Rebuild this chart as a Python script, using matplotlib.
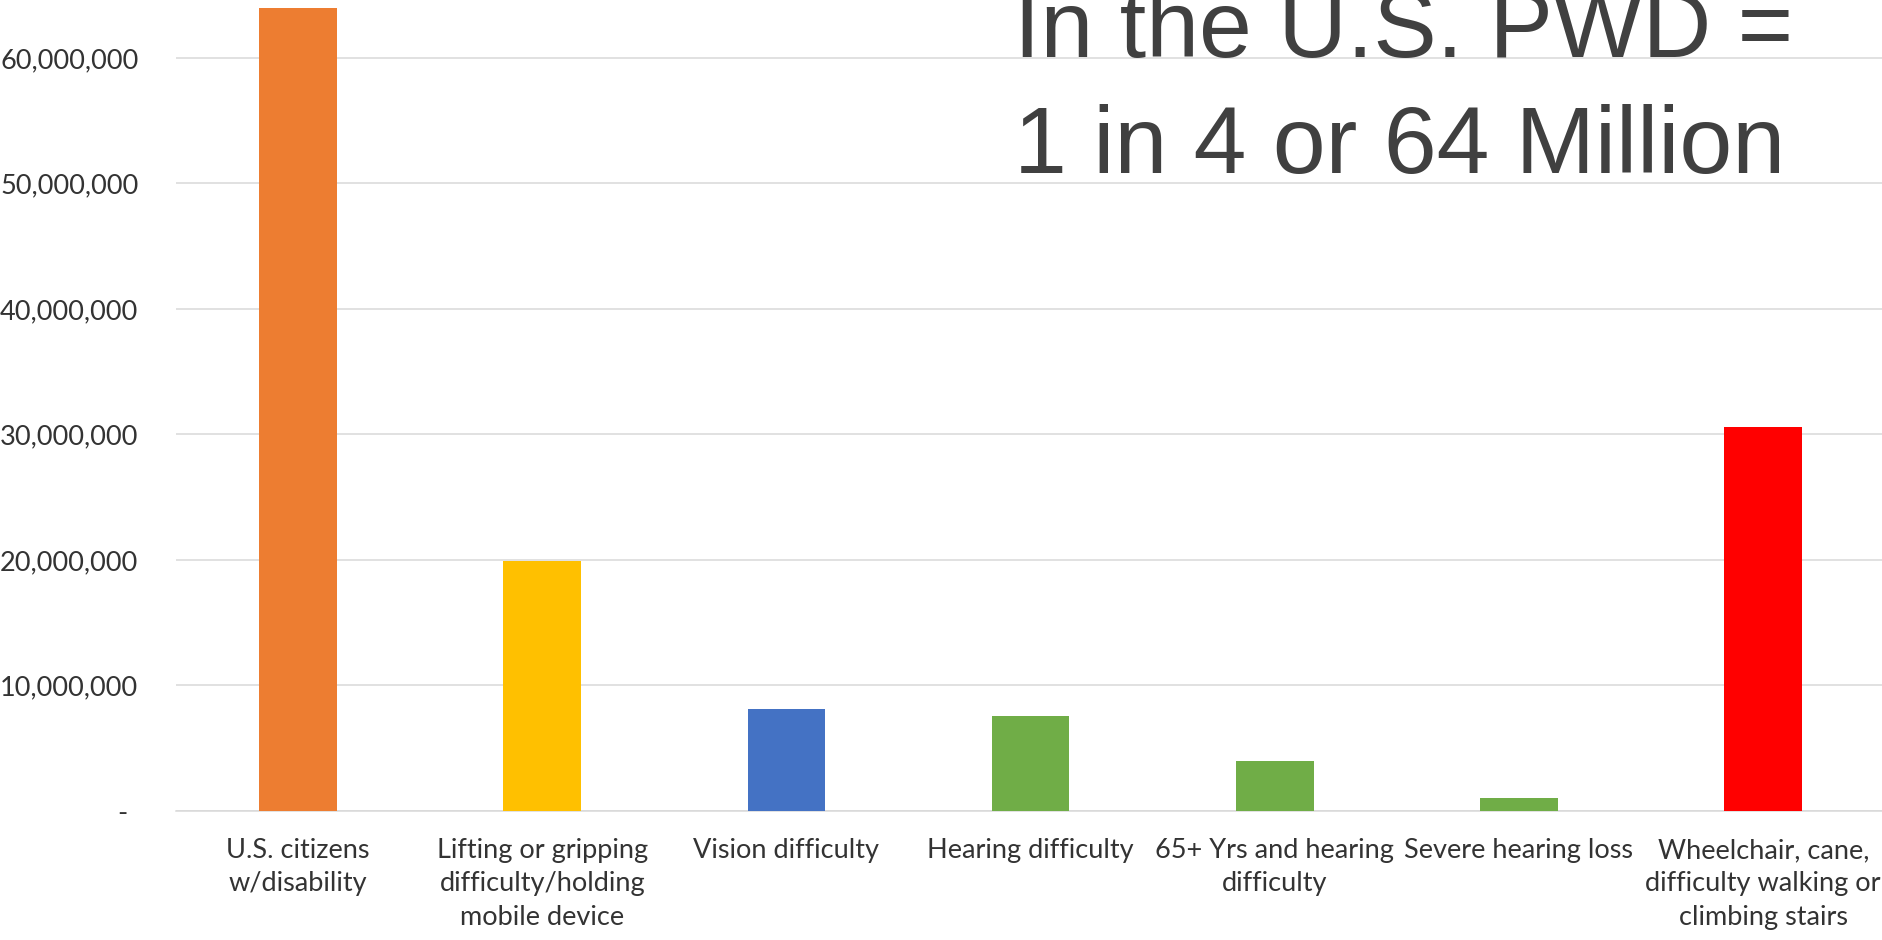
import matplotlib
matplotlib.use("Agg")
import matplotlib.pyplot as plt
from matplotlib.ticker import FuncFormatter

# Data
categories = [
    "U.S. citizens\nw/disability",
    "Lifting or gripping\ndifficulty/holding\nmobile device",
    "Vision difficulty",
    "Hearing difficulty",
    "65+ Yrs and hearing\ndifficulty",
    "Severe hearing loss",
    "Wheelchair, cane,\ndifficulty walking or\nclimbing stairs",
]
values = [64_000_000, 19_900_000, 8_100_000, 7_600_000, 4_000_000, 1_000_000, 30_600_000]
bar_colors = ["#ED7D31", "#FFC000", "#4472C4", "#70AD47", "#70AD47", "#70AD47", "#FF0000"]
y_ticks = [0, 10_000_000, 20_000_000, 30_000_000, 40_000_000, 50_000_000, 60_000_000]
headline = ["In the U.S. PWD =", "1 in 4 or 64 Million"]

W, H = 1883, 940
fig = plt.figure(figsize=(W / 100, H / 100), dpi=100)
fig.patch.set_facecolor("white")

ax_left, ax_right = 175.9, 1885.3
ax_bottom_px = 811.0
ax = fig.add_axes([ax_left / W, (H - ax_bottom_px) / H, (ax_right - ax_left) / W, ax_bottom_px / H])

label_font = "Lato"
text_color = "#333333"
grid_color = "#D9D9D9"

x = list(range(len(categories)))
ax.bar(x, values, width=0.317, color=bar_colors, zorder=3)

ax.set_xlim(-0.5, len(categories) - 0.5)
ax.set_ylim(0, 64.62e6)

ax.set_yticks(y_ticks)
ax.yaxis.set_major_formatter(FuncFormatter(lambda v, _: "" if v == 0 else f"{int(round(v)):,}"))
ax.grid(axis="y", color=grid_color, linewidth=1.1, zorder=0)
ax.set_axisbelow(True)
ax.axhline(0, color=grid_color, linewidth=1.1, zorder=1, clip_on=False)

for s in ax.spines.values():
    s.set_visible(False)

ax.set_xticks(x)
ax.set_xticklabels(categories, fontsize=19.5, family=label_font, color=text_color, linespacing=1.42)
for lab in ax.get_yticklabels():
    lab.set_fontsize(19.5)
    lab.set_family(label_font)
    lab.set_color(text_color)
ax.tick_params(axis="both", length=0)
ax.tick_params(axis="y", pad=27)
ax.tick_params(axis="x", pad=19.5)

# zero shown as a dash, accounting style
ax.text((122.5 - ax_left) / (ax_right - ax_left), 0, "-", transform=ax.get_yaxis_transform(),
        ha="center", va="center_baseline", fontsize=19.5, family=label_font, color=text_color)

# headline
title_x = 1014 / W
fig.text(title_x, 1 - 57 / H, headline[0], fontsize=68.5, family="Liberation Sans",
         color="#404040", ha="left", va="baseline")
fig.text(title_x, 1 - 172.7 / H, headline[1], fontsize=68.5, family="Liberation Sans",
         color="#404040", ha="left", va="baseline")

fig.savefig("out.png", dpi=100, facecolor="white")
